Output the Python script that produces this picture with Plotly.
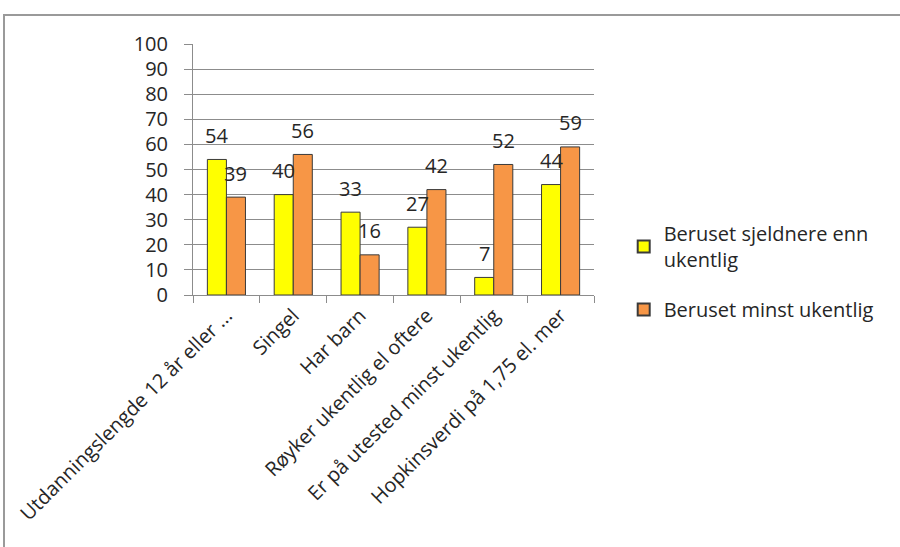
import plotly.graph_objects as go

categories = [
    "Utdanningslengde 12 år eller ...",
    "Singel",
    "Har barn",
    "Røyker ukentlig el oftere",
    "Er på utested minst ukentlig",
    "Hopkinsverdi på 1,75 el. mer",
]
sjeldnere = [54, 40, 33, 27, 7, 44]
minst_ukentlig = [39, 56, 16, 42, 52, 59]
series_names = ["Beruset sjeldnere enn<br>ukentlig", "Beruset minst ukentlig"]
y_ticks = list(range(0, 101, 10))

FONT = "Open Sans"
TEXT = "#262626"
GRID = "#8c8c8c"

fig = go.Figure()
fig.add_trace(go.Bar(
    x=categories, y=sjeldnere, name=series_names[0], legendgroup="a",
    marker=dict(color="#FFFF00", line=dict(color="#3a3a3a", width=1)),
))
fig.add_trace(go.Bar(
    x=categories, y=minst_ukentlig, name=series_names[1], legendgroup="b",
    marker=dict(color="#F79646", line=dict(color="#3a3a3a", width=1)),
))

# value labels above each bar
for vals, shift in ((sjeldnere, -9.5), (minst_ukentlig, 9.5)):
    for cat, v in zip(categories, vals):
        fig.add_annotation(
            x=cat, y=v, text=str(v), showarrow=False,
            xshift=shift, yshift=24, yanchor="middle",
            font=dict(family=FONT, size=20, color=TEXT),
        )

# outer chart frame
L, R, T, B = 193, 594, 44, 295
def px_x(p):
    return (p - L) / (R - L)
def px_y(p):
    return (B - p) / (B - T)
fig.add_shape(
    type="rect", xref="paper", yref="paper",
    x0=px_x(4), x1=px_x(1000), y0=px_y(600), y1=px_y(15),
    line=dict(color="#9a9a9a", width=2), layer="below",
)

fig.update_layout(
    width=900, height=547,
    margin=dict(l=L, r=900 - R, t=T, b=547 - B),
    paper_bgcolor="white", plot_bgcolor="white",
    barmode="group", bargap=0.43, bargroupgap=0,
    font=dict(family=FONT, size=20, color=TEXT),
    showlegend=True,
    legend=dict(
        xref="container", yref="container",
        x=0.693, y=1 - 214 / 547, xanchor="left", yanchor="top",
        font=dict(family=FONT, size=20, color=TEXT),
        itemsizing="constant", tracegroupgap=21,
        traceorder="grouped",
    ),
    xaxis=dict(
        type="category", tickangle=-45, tickson="boundaries",
        ticks="outside", ticklen=7, tickcolor=GRID,
        showline=True, linecolor=GRID, linewidth=1,
        showgrid=False,
        tickfont=dict(family=FONT, size=20, color=TEXT),
    ),
    yaxis=dict(
        range=[0, 100], tickvals=y_ticks, ticktext=[str(t) for t in y_ticks],
        ticks="outside", ticklen=8, tickcolor=GRID,
        showline=True, linecolor=GRID, linewidth=1,
        showgrid=True, gridcolor=GRID, gridwidth=1,
        zeroline=False, ticklabelstandoff=12,
        tickfont=dict(family=FONT, size=20, color=TEXT),
    ),
)

fig.write_html("out.html")
